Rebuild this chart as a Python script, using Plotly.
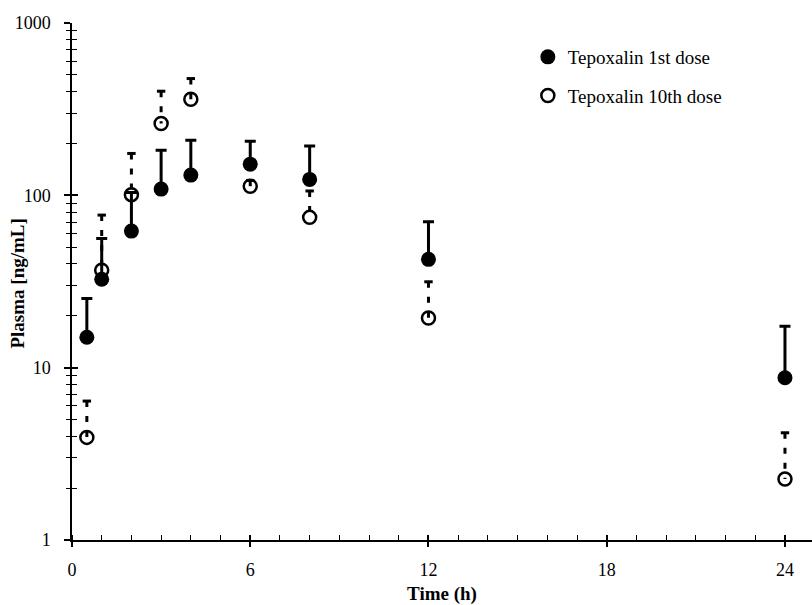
import plotly.graph_objects as go

# Data
time_h = [0.5, 1, 2, 3, 4, 6, 8, 12, 24]
dose1_mean = [15.0, 32.6, 62.0, 108.7, 131.0, 151.7, 123.7, 42.5, 8.74]
dose1_upper = [25.2, 56.2, 104.0, 182.9, 209.0, 206.0, 193.0, 70.2, 17.4]
dose10_mean = [3.94, 36.8, 100.9, 261.0, 361.0, 113.0, 74.5, 19.4, 2.26]
dose10_upper = [6.4, 76.8, 175.0, 402.0, 476.0, 122.0, 106.0, 31.5, 4.19]

x_major = [0, 6, 12, 18, 24]
x_labels = ["0", "6", "12", "18", "24"]
y_major = [1, 10, 100, 1000]
y_labels = ["1", "10", "100", "1000"]
y_minor = [m * d for d in (1, 10, 100) for m in range(2, 10)]

legend_names = ["Tepoxalin 1st dose", "Tepoxalin 10th dose"]
x_title = "Time (h)"
y_title = "Plasma [ng/mL]"

FONT = "Liberation Serif"

fig = go.Figure()

# 1st dose: filled circles, solid upward SD bars
fig.add_trace(go.Scatter(
    x=time_h, y=dose1_mean, mode="markers", name=legend_names[0],
    legendgroup="a",
    marker=dict(symbol="circle", size=15, color="black"),
    error_y=dict(type="data", symmetric=False,
                 array=[u - m for u, m in zip(dose1_upper, dose1_mean)],
                 arrayminus=[0] * len(dose1_mean),
                 color="black", thickness=3, width=5.5),
))

# 10th dose: dashed upward SD bars
dx, dy = [], []
for t, m, u in zip(time_h, dose10_mean, dose10_upper):
    dx += [t, t, None]
    dy += [u, m, None]
fig.add_trace(go.Scatter(
    x=dx, y=dy, mode="lines", showlegend=False, hoverinfo="skip",
    line=dict(color="black", width=3, dash="6px,9px"),
))
fig.add_trace(go.Scatter(
    x=time_h, y=dose10_upper, mode="markers", showlegend=False, hoverinfo="skip",
    marker=dict(symbol="line-ew", size=6, line=dict(color="black", width=3)),
))

# 10th dose: open circles
fig.add_trace(go.Scatter(
    x=time_h, y=dose10_mean, mode="markers", name=legend_names[1],
    legendgroup="b",
    marker=dict(symbol="circle-open", size=13, color="black",
                line=dict(color="black", width=2.5)),
))

# invisible trace to carry overlay axes (inside halves of crossing ticks)
fig.add_trace(go.Scatter(x=[None], y=[None], xaxis="x2", yaxis="y2",
                         showlegend=False, hoverinfo="skip"))

xr = [0, 24.91]
yr = [0, 3]

fig.update_layout(
    width=812, height=605,
    margin=dict(l=72, r=0, t=23, b=65),
    paper_bgcolor="white", plot_bgcolor="white",
    font=dict(family=FONT, size=18, color="black"),
    showlegend=True,
    legend=dict(x=0.616, y=0.971, xanchor="left", yanchor="top",
                bgcolor="rgba(0,0,0,0)", font=dict(family=FONT, size=19),
                tracegroupgap=11),
    xaxis=dict(
        range=xr, showgrid=False, zeroline=False,
        showline=True, linecolor="black", linewidth=1.5,
        tickmode="array", tickvals=x_major, ticktext=x_labels,
        ticks="outside", ticklen=5, tickwidth=1.5, tickcolor="black",
        ticklabelstandoff=8,
        minor=dict(dtick=1, tick0=0, ticks="inside", ticklen=5,
                   tickwidth=1.2, tickcolor="black", showgrid=False),
        title=dict(text="<b>" + x_title + "</b>", font=dict(family=FONT, size=19),
                   standoff=7),
    ),
    yaxis=dict(
        type="log", range=yr, showgrid=False, zeroline=False,
        showline=True, linecolor="black", linewidth=1.5,
        tickmode="array", tickvals=y_major, ticktext=y_labels,
        ticks="outside", ticklen=6, tickwidth=1.5, tickcolor="black",
        ticklabelstandoff=10,
        minor=dict(tickmode="array", tickvals=y_minor, ticks="outside",
                   ticklen=4.5, tickwidth=1.2, tickcolor="black",
                   showgrid=False),
    ),
    xaxis2=dict(
        overlaying="x", anchor="y2", range=xr, showgrid=False, zeroline=False,
        showline=False, showticklabels=False,
        tickmode="array", tickvals=x_major,
        ticks="inside", ticklen=5, tickwidth=1.5, tickcolor="black",
    ),
    yaxis2=dict(
        overlaying="y", anchor="x2", side="left", type="log", range=yr,
        showgrid=False, zeroline=False, showline=False, showticklabels=False,
        tickmode="array", tickvals=y_major,
        ticks="inside", ticklen=6, tickwidth=1.5, tickcolor="black",
        minor=dict(tickmode="array", tickvals=y_minor, ticks="inside",
                   ticklen=4.5, tickwidth=1.2, tickcolor="black",
                   showgrid=False),
    ),
    annotations=[dict(
        text="<b>" + y_title + "</b>", textangle=-90,
        xref="paper", yref="paper", x=-0.073, y=0.496,
        xanchor="center", yanchor="middle", showarrow=False,
        font=dict(family=FONT, size=19, color="black"),
    )],
)

fig.write_html(
    "out.html",
    config={"displayModeBar": False},
    post_script="document.body.style.margin='0';document.body.style.padding='0';",
)
